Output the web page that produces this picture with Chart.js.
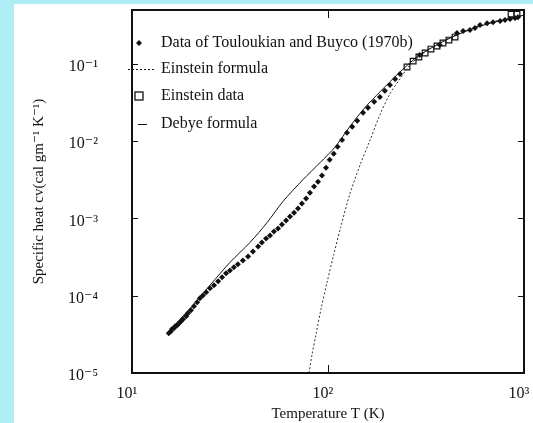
<!DOCTYPE html>
<html>
<head>
<meta charset="utf-8">
<script src="https://cdn.jsdelivr.net/npm/chart.js@4.4.1/dist/chart.umd.min.js"></script>
<style>
  html, body { margin: 0; padding: 0; background: #aeeef5; }
  #wrap { position: absolute; left: 14px; top: 4px; width: 519px; height: 419px; background: #fff; }
</style>
</head>
<body>
<div id="wrap"><canvas id="chart" width="519" height="419"></canvas></div>
<script>
const dataT = [15.4, 15.8, 16.0, 16.4, 16.6, 17.0, 17.4, 17.8, 18.2, 18.9, 19.3, 20.0, 20.7, 21.5, 22.2,
  23.0, 23.9, 25.0, 26.2, 27.5, 28.8, 30.2, 31.6, 33.1, 34.7, 36.8, 39.1, 41.4, 44.0, 46.0,
  48.3, 50.6, 53.0, 55.6, 58.2, 61.1, 64.0, 67.1, 70.3, 73.6, 77.3, 80.9, 84.9, 88.9, 93.1,
  97.7, 102, 107, 112, 118, 125, 133, 141, 151, 160, 172, 184, 195, 207, 220,
  233, 294, 372, 455, 489, 530, 562, 597, 648, 695, 755, 800, 849, 900, 931];
const dataC = [3.28e-5, 3.48e-5, 3.70e-5, 3.81e-5, 4.04e-5, 4.16e-5, 4.42e-5, 4.69e-5, 4.98e-5, 5.44e-5, 5.94e-5, 6.50e-5, 7.32e-5, 8.24e-5, 9.29e-5,
  1.01e-4, 1.11e-4, 1.25e-4, 1.37e-4, 1.54e-4, 1.73e-4, 1.95e-4, 2.13e-4, 2.33e-4, 2.55e-4, 2.87e-4, 3.23e-4, 3.75e-4, 4.35e-4, 4.90e-4,
  5.52e-4, 6.04e-4, 6.80e-4, 7.43e-4, 8.37e-4, 9.42e-4, 1.06e-3, 1.19e-3, 1.35e-3, 1.56e-3, 1.81e-3, 2.16e-3, 2.59e-3, 3.00e-3, 3.59e-3,
  4.55e-3, 5.77e-3, 6.90e-3, 8.49e-3, 1.04e-2, 1.29e-2, 1.54e-2, 1.84e-2, 2.33e-2, 2.71e-2, 3.24e-2, 3.75e-2, 4.49e-2, 5.36e-2, 6.40e-2,
  7.43e-2, 0.131, 0.176, 0.251, 0.267, 0.275, 0.292, 0.319, 0.338, 0.348, 0.359, 0.370, 0.381, 0.393, 0.404];

// Einstein data (open squares)
const einT = [253, 272, 291, 313, 335, 360, 386, 414, 445, 859, 921];
const einC = [0.0915, 0.109, 0.123, 0.139, 0.156, 0.171, 0.187, 0.204, 0.223, 0.442, 0.442];

// Einstein formula curve (dotted)
const efT = [80.0, 82.8, 86.9, 92.1, 98.9, 107, 116, 129, 146, 164, 184, 207, 233, 262, 313, 395, 530, 711, 1000];
const efC = [1.0e-5, 1.71e-5, 3.18e-5, 6.70e-5, 1.49e-4, 3.43e-4, 7.65e-4, 2.04e-3, 4.98e-3, 1.04e-2, 2.20e-2, 4.10e-2, 6.40e-2, 9.71e-2, 0.143, 0.204, 0.283, 0.359, 0.429];

// Debye formula curve (solid)
const dbT = [15.3, 19.8, 25.0, 31.6, 40.0, 48.9, 58.9, 74.5, 91.0, 109, 129, 154, 184, 233, 294, 419, 597, 1000];
const dbC = [3.38e-5, 6.90e-5, 1.37e-4, 2.70e-4, 4.90e-4, 8.87e-4, 1.66e-3, 3.18e-3, 5.28e-3, 8.49e-3, 1.54e-2, 2.71e-2, 4.35e-2, 7.89e-2, 0.131, 0.216, 0.309, 0.429];

const xTicks = [10, 100, 1000];
const xTickLabels = ['10¹', '10²', '10³'];
const yTicks = [1e-5, 1e-4, 1e-3, 1e-2, 1e-1];
const yTickLabels = ['10⁻⁵', '10⁻⁴', '10⁻³', '10⁻²', '10⁻¹'];

const legendLabels = ['Data of Touloukian and Buyco (1970b)', 'Einstein formula', 'Einstein data', 'Debye formula'];

const serif = '"Liberation Serif", "DejaVu Serif", serif';
const ink = '#111';

const pts = (xs, ys) => xs.map((x, i) => ({ x: x, y: ys[i] }));

// frame, inward ticks and the boxed-in legend
const framePlugin = {
  id: 'frame',
  afterDatasetsDraw(chart) {
    const { ctx, chartArea: a, scales: { x, y } } = chart;
    ctx.save();
    ctx.strokeStyle = ink;
    ctx.lineWidth = 2;
    ctx.strokeRect(a.left, a.top, a.right - a.left, a.bottom - a.top);

    ctx.lineWidth = 1;
    ctx.beginPath();
    yTicks.forEach(v => {
      const py = Math.round(y.getPixelForValue(v)) + 0.5;
      ctx.moveTo(a.left, py); ctx.lineTo(a.left + 6, py);
      ctx.moveTo(a.right, py); ctx.lineTo(a.right - 6, py);
    });
    xTicks.forEach(v => {
      const px = Math.round(x.getPixelForValue(v)) + 0.5;
      ctx.moveTo(px, a.bottom); ctx.lineTo(px, a.bottom - 8);
      ctx.moveTo(px, a.top); ctx.lineTo(px, a.top + 8);
    });
    ctx.stroke();

    // legend
    const lx = a.left + 7, tx = a.left + 29;
    const rows = [a.top + 33, a.top + 59, a.top + 86, a.top + 114];
    ctx.fillStyle = ink;
    ctx.font = '16px ' + serif;
    ctx.textBaseline = 'middle';
    ctx.textAlign = 'left';
    legendLabels.forEach((t, i) => ctx.fillText(t, tx, rows[i]));

    // diamond
    ctx.beginPath();
    ctx.moveTo(lx, rows[0] - 3); ctx.lineTo(lx + 3, rows[0]);
    ctx.lineTo(lx, rows[0] + 3); ctx.lineTo(lx - 3, rows[0]);
    ctx.closePath(); ctx.fill();
    // dotted line
    ctx.lineWidth = 1;
    ctx.setLineDash([2, 2]);
    ctx.beginPath(); ctx.moveTo(a.left - 4, rows[1] + 0.5); ctx.lineTo(a.left + 22, rows[1] + 0.5); ctx.stroke();
    ctx.setLineDash([]);
    // open square
    ctx.lineWidth = 1.3;
    ctx.strokeRect(lx - 4, rows[2] - 4, 8, 8);
    // solid short line
    ctx.lineWidth = 1;
    ctx.beginPath(); ctx.moveTo(lx - 1, rows[3] + 0.5); ctx.lineTo(lx + 8, rows[3] + 0.5); ctx.stroke();
    ctx.restore();
  }
};

new Chart(document.getElementById('chart'), {
  type: 'scatter',
  data: {
    datasets: [
      {
        label: 'Debye formula',
        data: pts(dbT, dbC),
        showLine: true,
        borderColor: ink,
        borderWidth: 1,
        pointRadius: 0,
        tension: 0.3
      },
      {
        label: 'Einstein formula',
        data: pts(efT, efC),
        showLine: true,
        borderColor: '#333',
        borderWidth: 1,
        borderDash: [2, 2],
        pointRadius: 0,
        tension: 0.3
      },
      {
        label: 'Data of Touloukian and Buyco (1970b)',
        data: pts(dataT, dataC),
        pointStyle: 'rectRot',
        pointRadius: 3,
        backgroundColor: ink,
        borderColor: ink,
        borderWidth: 0
      },
      {
        label: 'Einstein data',
        data: pts(einT, einC),
        pointStyle: 'rect',
        pointRadius: 4,
        backgroundColor: '#fff',
        borderColor: ink,
        borderWidth: 1.2
      }
    ]
  },
  options: {
    responsive: false,
    animation: false,
    devicePixelRatio: 1,
    layout: { padding: { top: 6, right: 9, left: 0, bottom: 0 } },
    plugins: {
      legend: { display: false },
      tooltip: { enabled: false }
    },
    scales: {
      x: {
        type: 'logarithmic',
        min: 10,
        max: 1000,
        afterBuildTicks: axis => { axis.ticks = xTicks.map(v => ({ value: v })); },
        afterFit: axis => { axis.height = 50; axis.paddingLeft = 0; axis.paddingRight = 0; },
        grid: { display: false, drawTicks: false },
        border: { display: false },
        ticks: {
          padding: 11,
          labelOffset: -5,
          color: ink,
          maxRotation: 0,
          font: { family: serif, size: 16 },
          callback: v => { const i = xTicks.indexOf(v); return i >= 0 ? xTickLabels[i] : ''; }
        },
        title: {
          display: true,
          text: 'Temperature T (K)',
          color: ink,
          font: { family: serif, size: 15 },
          padding: { top: 0, bottom: 0 }
        }
      },
      y: {
        type: 'logarithmic',
        min: 1e-5,
        max: 0.5,
        afterBuildTicks: axis => { axis.ticks = yTicks.map(v => ({ value: v })); },
        afterFit: axis => { axis.width = 118; axis.paddingTop = 0; axis.paddingBottom = 0; },
        grid: { display: false, drawTicks: false },
        border: { display: false },
        ticks: {
          padding: 34,
          labelOffset: 3,
          color: ink,
          font: { family: serif, size: 16 },
          callback: v => { const i = yTicks.indexOf(v); return i >= 0 ? yTickLabels[i] : ''; }
        },
        title: {
          display: true,
          text: 'Specific heat cv(cal gm⁻¹ K⁻¹)',
          color: ink,
          font: { family: serif, size: 15 },
          padding: { top: 16, bottom: 0 }
        }
      }
    }
  },
  plugins: [framePlugin]
});
</script>
</body>
</html>
